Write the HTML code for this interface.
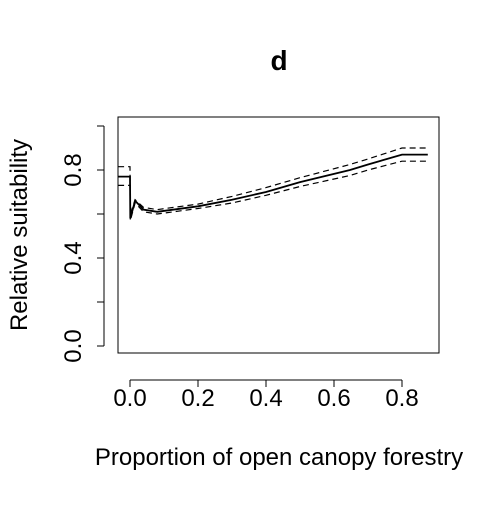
<!DOCTYPE html>
<html><head><style>
body{margin:0;background:#fff;}
svg{font-family:"Liberation Sans",sans-serif;}
</style></head><body>
<svg id="c" width="500" height="500">
<text x="279" y="70" text-anchor="middle" font-size="28" font-weight="bold">d</text>
<rect x="118" y="117" width="321" height="236" fill="none" stroke="#000" stroke-width="1"/>
<text transform="translate(27,235) rotate(-90)" text-anchor="middle" font-size="24">Relative suitability</text>
<text x="279" y="465" text-anchor="middle" font-size="24">Proportion of open canopy forestry</text>
<g id="axes"></g>
<g id="marks"></g>
</svg>
<script>
const xs=[-0.035,0,0.001,0.015,0.04,0.08,0.2,0.3,0.4,0.5,0.647,0.7,0.8,0.876];
const fit=[0.77,0.77,0.58,0.66,0.62,0.61,0.635,0.665,0.70,0.745,0.80,0.825,0.87,0.87];
const upper=[0.815,0.815,0.60,0.665,0.63,0.62,0.645,0.68,0.72,0.765,0.825,0.85,0.90,0.90];
const lower=[0.73,0.73,0.57,0.65,0.61,0.60,0.625,0.65,0.685,0.725,0.775,0.80,0.84,0.84];
const xTicks=[0,0.2,0.4,0.6,0.8];
const xTickLabels=["0.0","0.2","0.4","0.6","0.8"];
const yTicks=[0,0.2,0.4,0.6,0.8,1.0];
const yTickLabels=["0.0","0.4","0.8"];
const yLabelVals=[0,0.4,0.8];
const X=v=>130+340*v, Y=v=>346-220*v;
const NS="http://www.w3.org/2000/svg";
const axes=document.getElementById('axes'), marks=document.getElementById('marks');
function mk(p,t,a){const e=document.createElementNS(NS,t);for(const k in a)e.setAttribute(k,a[k]);p.appendChild(e);return e;}
let l=mk(axes,'line',{x1:X(0),x2:X(0.8),y1:380,y2:380,stroke:'#000'});


xTicks.forEach((v,i)=>{
 const t=mk(axes,'line',{x1:X(v),x2:X(v),y1:380,y2:387,stroke:'#000'});
 
 
 const tx=mk(axes,'text',{x:X(v),y:406,'text-anchor':'middle','font-size':24});
 tx.textContent=xTickLabels[i];
 
 
});
l=mk(axes,'line',{x1:104,x2:104,y1:Y(0),y2:Y(1),stroke:'#000'});


yTicks.forEach(v=>{
 const t=mk(axes,'line',{x1:97,x2:104,y1:Y(v),y2:Y(v),stroke:'#000'});
 
 
});
yLabelVals.forEach((v,i)=>{
 const tx=mk(axes,'text',{transform:`translate(81,${Y(v)}) rotate(-90)`,'text-anchor':'middle','font-size':24});
 tx.textContent=yTickLabels[i];
 
 
});
function path(arr){return arr.map((v,i)=>(i?'L':'M')+X(xs[i]).toFixed(1)+','+Y(v).toFixed(1)).join('');}
let p=mk(marks,'path',{d:path(upper),fill:'none',stroke:'#000','stroke-width':1.2,'stroke-dasharray':'6,4'});


p=mk(marks,'path',{d:path(lower),fill:'none',stroke:'#000','stroke-width':1.2,'stroke-dasharray':'6,4'});


p=mk(marks,'path',{d:path(fit),fill:'none',stroke:'#000','stroke-width':1.8});


</script>
</body></html>
